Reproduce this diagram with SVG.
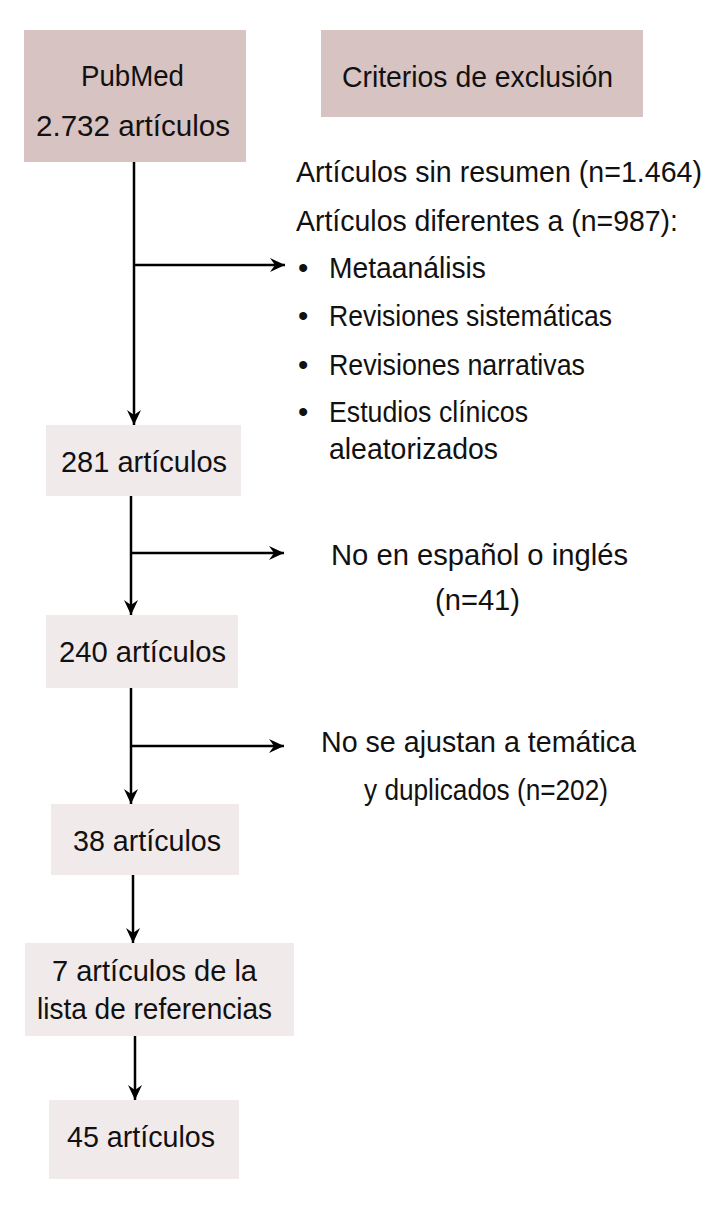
<svg xmlns="http://www.w3.org/2000/svg" width="722" height="1220" viewBox="0 0 722 1220">
  <defs>
    <style>
      .dark { fill: #d8c3c3; }
      .light { fill: #f0eaea; }
      .hdr { font-family: "Liberation Sans", Arial, sans-serif; font-size: 30px; fill: #111; }
      .txt { font-family: "Liberation Sans", Arial, sans-serif; font-size: 29.5px; fill: #111; }
      .conn { stroke: #000; stroke-width: 2.5; fill: none; }
    </style>
    <marker id="arrow" markerUnits="userSpaceOnUse" markerWidth="16" markerHeight="14" refX="15" refY="7" orient="auto">
      <path d="M0,0 L15,7 L0,14 L5,7 Z" fill="#000"/>
    </marker>
  </defs>
  <rect width="722" height="1220" fill="#ffffff"/>

  <g id="node-pubmed">
    <rect class="dark" x="24" y="30" width="222" height="132"/>
    <text class="hdr" x="81" y="86" textLength="103" lengthAdjust="spacingAndGlyphs">PubMed</text>
    <text class="hdr" x="36" y="136" textLength="194" lengthAdjust="spacingAndGlyphs">2.732 artículos</text>
  </g>

  <g id="node-criterios">
    <rect class="dark" x="321" y="30" width="322" height="87"/>
    <text class="hdr" x="342" y="87" textLength="271" lengthAdjust="spacingAndGlyphs">Criterios de exclusión</text>
  </g>

  <g id="exclusion-1">
    <text class="txt" x="296" y="182" textLength="406" lengthAdjust="spacingAndGlyphs">Artículos sin resumen (n=1.464)</text>
    <text class="txt" x="296" y="231" textLength="382" lengthAdjust="spacingAndGlyphs">Artículos diferentes a (n=987):</text>
    <text class="txt" x="298" y="278">•</text>
    <text class="txt" x="329" y="278" textLength="157" lengthAdjust="spacingAndGlyphs">Metaanálisis</text>
    <text class="txt" x="298" y="326">•</text>
    <text class="txt" x="329" y="326" textLength="283" lengthAdjust="spacingAndGlyphs">Revisiones sistemáticas</text>
    <text class="txt" x="298" y="375">•</text>
    <text class="txt" x="329" y="375" textLength="256" lengthAdjust="spacingAndGlyphs">Revisiones narrativas</text>
    <text class="txt" x="298" y="422">•</text>
    <text class="txt" x="329" y="422" textLength="199" lengthAdjust="spacingAndGlyphs">Estudios clínicos</text>
    <text class="txt" x="329" y="459" textLength="169" lengthAdjust="spacingAndGlyphs">aleatorizados</text>
  </g>

  <g id="node-281">
    <rect class="light" x="46" y="425" width="195" height="71"/>
    <text class="txt" x="61" y="472" textLength="166" lengthAdjust="spacingAndGlyphs">281 artículos</text>
  </g>

  <g id="exclusion-2">
    <text class="txt" x="331" y="565" textLength="297" lengthAdjust="spacingAndGlyphs">No en español o inglés</text>
    <text class="txt" x="435" y="610" textLength="85" lengthAdjust="spacingAndGlyphs">(n=41)</text>
  </g>

  <g id="node-240">
    <rect class="light" x="46" y="615" width="192" height="73"/>
    <text class="txt" x="59" y="662" textLength="167" lengthAdjust="spacingAndGlyphs">240 artículos</text>
  </g>

  <g id="exclusion-3">
    <text class="txt" x="321" y="752" textLength="315" lengthAdjust="spacingAndGlyphs">No se ajustan a temática</text>
    <text class="txt" x="364" y="800" textLength="244" lengthAdjust="spacingAndGlyphs">y duplicados (n=202)</text>
  </g>

  <g id="node-38">
    <rect class="light" x="51" y="804" width="188" height="71"/>
    <text class="txt" x="73" y="851" textLength="148" lengthAdjust="spacingAndGlyphs">38 artículos</text>
  </g>

  <g id="node-7">
    <rect class="light" x="25" y="943" width="269" height="93"/>
    <text class="txt" x="52" y="981" textLength="205" lengthAdjust="spacingAndGlyphs">7 artículos de la</text>
    <text class="txt" x="37" y="1019" textLength="235" lengthAdjust="spacingAndGlyphs">lista de referencias</text>
  </g>

  <g id="node-45">
    <rect class="light" x="49" y="1100" width="190" height="79"/>
    <text class="txt" x="67" y="1147" textLength="148" lengthAdjust="spacingAndGlyphs">45 artículos</text>
  </g>

  <g id="connectors">
    <line class="conn" x1="134" y1="162" x2="134" y2="425" marker-end="url(#arrow)"/>
    <line class="conn" x1="134" y1="265" x2="285" y2="265" marker-end="url(#arrow)"/>
    <line class="conn" x1="131" y1="496" x2="131" y2="615" marker-end="url(#arrow)"/>
    <line class="conn" x1="131" y1="553" x2="284" y2="553" marker-end="url(#arrow)"/>
    <line class="conn" x1="131" y1="688" x2="131" y2="804" marker-end="url(#arrow)"/>
    <line class="conn" x1="131" y1="746" x2="284" y2="746" marker-end="url(#arrow)"/>
    <line class="conn" x1="133" y1="875" x2="133" y2="943" marker-end="url(#arrow)"/>
    <line class="conn" x1="135" y1="1036" x2="135" y2="1100" marker-end="url(#arrow)"/>
  </g>
</svg>
